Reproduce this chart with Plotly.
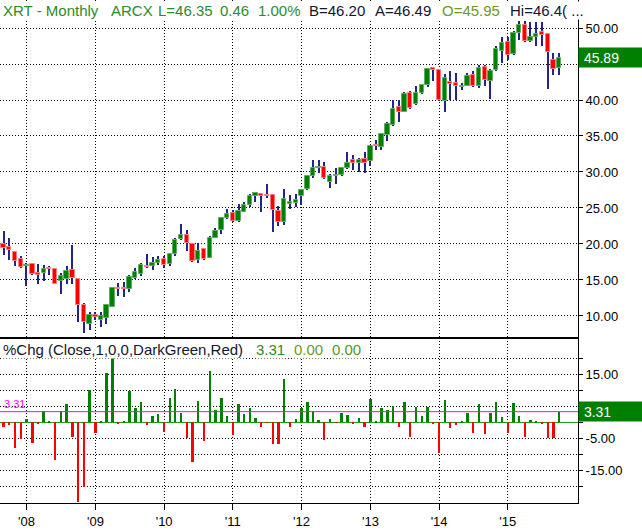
import pandas as pd
import plotly.graph_objects as go
from plotly.subplots import make_subplots

# ---------------- data (monthly XRT, Sep 2007 .. Oct 2015) ----------------
start_month = "2007-09-01"

open_px = [20.0, 19.6, 18.9, 17.9, 17.0, 17.2, 16.0, 16.0, 16.7, 16.5,
           14.8, 15.1, 16.4, 15.2, 11.5, 8.9, 10.2, 9.45, 9.7, 11.3,
           13.9, 13.85, 13.8, 15.3, 15.9, 17.0, 16.9, 17.3, 17.9, 17.2,
           18.6, 20.7, 21.3, 20.0, 17.8, 19.3, 18.1, 20.9, 21.9, 23.6,
           24.3, 23.2, 24.5, 25.4, 26.7, 27.0, 26.75, 26.8, 24.6, 23.0,
           25.5, 25.7, 26.6, 27.6, 29.4, 30.5, 30.7, 28.6, 29.45, 29.6,
           30.6, 31.6, 31.2, 31.8, 31.5, 33.8, 33.5, 35.2, 36.5, 39.0,
           38.4, 41.0, 39.5, 41.0, 42.1, 44.45, 44.1, 39.9, 42.5, 42.3,
           41.75, 42.0, 43.5, 41.9, 44.6, 42.7, 44.1, 46.8, 48.0, 46.4,
           49.3, 50.4, 48.2, 48.75, 49.5, 49.1, 45.5, 44.4]
high_px = [21.85, 20.9, 18.95, 18.4, 17.4, 17.3, 17.2, 17.1, 16.9, 16.5,
           16.0, 16.9, 19.9, 15.2, 11.8, 10.5, 10.5, 10.5, 11.5, 14.05,
           14.6, 14.7, 15.7, 16.6, 17.4, 18.65, 18.2, 18.4, 18.4, 18.8,
           20.85, 22.8, 22.0, 20.2, 20.2, 19.5, 21.1, 22.2, 23.75, 24.9,
           24.7, 25.6, 25.8, 26.9, 27.2, 27.05, 28.3, 27.0, 25.3, 27.6,
           26.8, 26.9, 27.7, 29.5, 31.6, 31.6, 31.4, 29.7, 30.5, 30.7,
           32.8, 32.3, 31.9, 32.8, 33.6, 34.5, 35.3, 36.9, 40.0, 40.0,
           41.05, 41.3, 41.9, 42.2, 44.45, 44.6, 44.2, 43.6, 44.0, 43.8,
           42.3, 43.75, 44.0, 44.9, 44.9, 44.3, 47.5, 48.8, 48.7, 49.6,
           51.1, 51.0, 50.9, 50.9, 50.9, 49.2, 46.5, 46.5]
low_px = [18.5, 17.8, 16.9, 16.7, 14.2, 15.7, 14.5, 14.9, 15.7, 14.4,
          13.1, 14.5, 14.5, 9.1, 7.7, 8.1, 9.4, 8.4, 8.85, 11.2,
          12.8, 12.6, 13.3, 15.1, 15.6, 16.6, 16.4, 17.1, 16.6, 17.0,
          18.4, 20.5, 19.0, 17.5, 17.4, 17.8, 18.0, 20.8, 21.4, 23.5,
          23.0, 23.0, 24.4, 25.2, 25.8, 24.5, 26.4, 21.6, 22.5, 22.7,
          24.9, 25.2, 25.4, 27.5, 29.1, 29.9, 29.0, 27.8, 28.4, 29.4,
          30.4, 30.3, 30.0, 29.9, 30.9, 33.1, 33.1, 34.3, 36.35, 36.9,
          38.3, 38.75, 39.35, 40.9, 41.8, 42.6, 39.8, 38.35, 40.05, 40.05,
          41.4, 41.9, 41.8, 41.7, 41.9, 40.1, 44.0, 45.1, 45.5, 46.2,
          48.3, 48.0, 48.0, 47.5, 47.5, 41.5, 43.5, 43.5]
close_px = [19.4, 19.2, 17.6, 16.75, 17.1, 15.8, 15.7, 16.5, 16.5, 14.5,
            15.5, 16.2, 15.3, 11.5, 9.1, 10.1, 9.9, 10.0, 11.5, 13.85,
            13.7, 13.75, 15.35, 16.1, 17.1, 16.8, 17.3, 17.8, 17.15, 18.6,
            20.6, 21.3, 20.2, 17.7, 19.0, 17.95, 20.9, 21.85, 23.55, 24.2,
            23.15, 24.6, 25.4, 26.7, 27.1, 26.7, 26.6, 24.7, 23.05, 26.2,
            25.85, 26.15, 27.5, 29.4, 30.55, 30.75, 29.2, 29.5, 29.6, 30.5,
            31.3, 31.2, 31.7, 31.2, 33.55, 33.55, 35.25, 36.7, 38.75, 38.3,
            40.9, 38.9, 41.0, 42.1, 44.3, 44.1, 40.0, 43.1, 42.2, 41.95,
            41.95, 43.4, 41.9, 44.4, 42.8, 44.0, 47.1, 47.95, 46.3, 49.35,
            50.4, 48.15, 48.7, 49.1, 49.05, 46.6, 44.35, 45.89]
pct_chg = [-1.4, -1.0, -8.1, -5.2, 0.9, -6.4, -0.3, 3.5, 0.1, -11.8,
           3.5, 5.7, -4.7, -24.8, -20.3, 10.1, -3.4, 0.5, 15.3, 20.7,
           -0.6, 0.5, 9.8, 4.6, 6.4, -1.0, 1.9, 2.6, -2.9, 7.5,
           10.4, 3.0, -5.0, -12.5, 6.7, -5.8, 16.0, 3.9, 7.5, 2.0,
           -4.0, 5.7, 2.6, 4.6, 1.25, -1.4, -0.2, -6.9, -6.7, 13.4,
           -1.4, 0.9, 4.6, 6.4, 3.5, 0.6, -5.5, 0.9, -0.2, 3.0,
           2.2, -0.6, 1.25, -1.4, 7.2, 0.1, 4.6, 3.9, 5.1, -1.4,
           6.4, -4.7, 4.8, 2.1, 4.8, -0.4, -9.5, 7.0, -1.7, -0.7,
           0.1, 3.0, -3.4, 5.7, -3.75, 3.0, 6.4, 1.6, -3.2, 6.1,
           1.9, -4.5, 0.7, 0.4, -0.4, -5.0, -5.0, 3.31]

year_tick_dates = ["2008-01-01", "2009-01-01", "2010-01-01", "2011-01-01",
                   "2012-01-01", "2013-01-01", "2014-01-01", "2015-01-01"]
year_tick_labels = ["'08", "'09", "'10", "'11", "'12", "'13", "'14", "'15"]
price_ticks = [10, 15, 20, 25, 30, 35, 40, 45, 50]
# 45.00 sits under the last-price box in the reference, so it is left blank
price_tick_labels = ["10.00", "15.00", "20.00", "25.00", "30.00", "35.00",
                     "40.00", "", "50.00"]
pct_ticks = [-20, -15, -10, -5, 0, 5, 10, 15, 20]
# 5.00 sits under the last-value box in the reference, so it is left blank
pct_tick_labels = ["", "-15.00", "", "-5.00", "", "", "", "15.00", ""]
last_price = 45.89
last_pct = 3.31

# ---------------- derived ----------------
months = pd.date_range(start_month, periods=len(close_px), freq="MS")
wick_len = [h - l for h, l in zip(high_px, low_px)]
body_base = [min(o, c) for o, c in zip(open_px, close_px)]
body_len = [abs(c - o) for o, c in zip(open_px, close_px)]
up = [c >= o for o, c in zip(open_px, close_px)]
body_fill = ["#008000" if u else "#ff0000" for u in up]
body_edge = ["#5fae5f" if u else "#ff7a7a" for u in up]
pct_col = ["#008000" if v >= 0 else "#ff0000" for v in pct_chg]

DAY = 86400000
FONT = "Liberation Sans, Arial, sans-serif"
PLOT_W, PLOT_H = 578, 503

fig = make_subplots(rows=2, cols=1, shared_xaxes=True, vertical_spacing=0,
                    row_heights=[338, 165])

fig.add_trace(go.Bar(x=months, y=wick_len, base=low_px, width=6 * DAY,
                     marker=dict(color="#23238c", line=dict(width=0)),
                     hoverinfo="skip"), row=1, col=1)
fig.add_trace(go.Bar(x=months, y=body_len, base=body_base, width=23 * DAY,
                     marker=dict(color=body_fill,
                                 line=dict(color=body_edge, width=1)),
                     hoverinfo="skip"), row=1, col=1)
fig.add_trace(go.Bar(x=months, y=pct_chg, width=12.5 * DAY,
                     marker=dict(color=pct_col, line=dict(width=0)),
                     hoverinfo="skip"), row=2, col=1)

grid = dict(showgrid=True, gridcolor="#000000", gridwidth=1, griddash="1px,2px")
xrange = ["2007-08-13", "2016-01-09"]
xcommon = dict(range=xrange, tickvals=year_tick_dates, ticktext=year_tick_labels,
               showline=True, mirror=True, linecolor="#000000", linewidth=1,
               zeroline=False, **grid)
fig.update_xaxes(row=1, col=1, showticklabels=False, ticks="", **xcommon)
fig.update_xaxes(row=2, col=1, showticklabels=True, ticks="outside", ticklen=6,
                 tickcolor="#000000",
                 tickfont=dict(family=FONT, size=13, color="#000000"), **xcommon)

ycommon = dict(side="right", showline=True, mirror=True, linecolor="#000000",
               linewidth=1, ticks="outside", ticklen=4, tickcolor="#000000",
               tickfont=dict(family=FONT, size=13, color="#000000"), **grid)
fig.update_yaxes(row=1, col=1, range=[6.94, 53.89], tickvals=price_ticks,
                 ticktext=price_tick_labels, zeroline=False, **ycommon)
fig.update_yaxes(row=2, col=1, range=[-25.2, 26.3], tickvals=pct_ticks,
                 ticktext=pct_tick_labels, zeroline=True,
                 zerolinecolor="#1f9a1f", zerolinewidth=1, **ycommon)

shapes = [
    # white strip behind the quote line at the top of the price panel
    dict(type="rect", xref="x domain", yref="y domain", x0=0.002, x1=0.998,
         y0=1 - 21 / 338, y1=1 - 1 / 338, fillcolor="#ffffff",
         line=dict(width=0), layer="above"),
    dict(type="line", xref="x2 domain", yref="y2", x0=0, x1=1, y0=last_pct,
         y1=last_pct, line=dict(color="#ff00ff", width=1), layer="above"),
]

def txt(px, py, text, color, size=15, anchor="middle"):
    return dict(x=px / PLOT_W, y=1 - py / PLOT_H, xref="paper", yref="paper",
                xanchor="left", yanchor=anchor, text=text, showarrow=False,
                bgcolor="#ffffff", borderpad=0,
                font=dict(family=FONT, size=size, color=color))

GREEN = "#2a8c2a"
OLIVE = "#6f9a22"
DARK = "#151530"
annotations = [
    txt(2, 11, "XRT - Monthly", GREEN),
    txt(110, 11, "ARCX", GREEN),
    txt(157, 11, "L=46.35", GREEN),
    txt(219, 11, "0.46", GREEN),
    txt(257, 11, "1.00%", GREEN),
    txt(308, 11, "B=46.20", DARK),
    txt(374, 11, "A=46.49", DARK),
    txt(441, 11, "O=45.95", OLIVE),
    txt(509, 11, "Hi=46.4( ...", DARK),
    txt(2, 349, "%Chg (Close,1,0,0,DarkGreen,Red)", DARK),
    txt(255, 349, "3.31", GREEN),
    txt(293, 349, "0.00", OLIVE),
    txt(331, 349, "0.00", "#4f9a26"),
    dict(x=2 / PLOT_W, y=last_pct, xref="paper", yref="y2", xanchor="left",
         yanchor="bottom", text="3.31", showarrow=False, yshift=0,
         font=dict(family=FONT, size=11, color="#ff00ff")),
    dict(x=1, y=last_price, xref="paper", yref="y", xanchor="left",
         yanchor="middle", text="&nbsp;" + f"{last_price:.2f}", showarrow=False,
         bgcolor="#008000", width=62, height=17, borderpad=1, align="left",
         font=dict(family=FONT, size=14, color="#ffffff")),
    dict(x=1, y=last_pct, xref="paper", yref="y2", xanchor="left",
         yanchor="middle", text="&nbsp;" + f"{last_pct:.2f}", showarrow=False,
         bgcolor="#008000", width=62, height=17, borderpad=1, align="left",
         font=dict(family=FONT, size=14, color="#ffffff")),
]

fig.update_layout(width=642, height=532, margin=dict(l=0, r=64, t=0, b=29),
                  paper_bgcolor="#ffffff", plot_bgcolor="#ffffff",
                  barmode="overlay", showlegend=False, bargap=0,
                  shapes=shapes, annotations=annotations,
                  font=dict(family=FONT))

fig.write_html("out.html", config={"displayModeBar": False},
               post_script="document.body.style.margin='0';"
                           "document.body.style.padding='0';")
